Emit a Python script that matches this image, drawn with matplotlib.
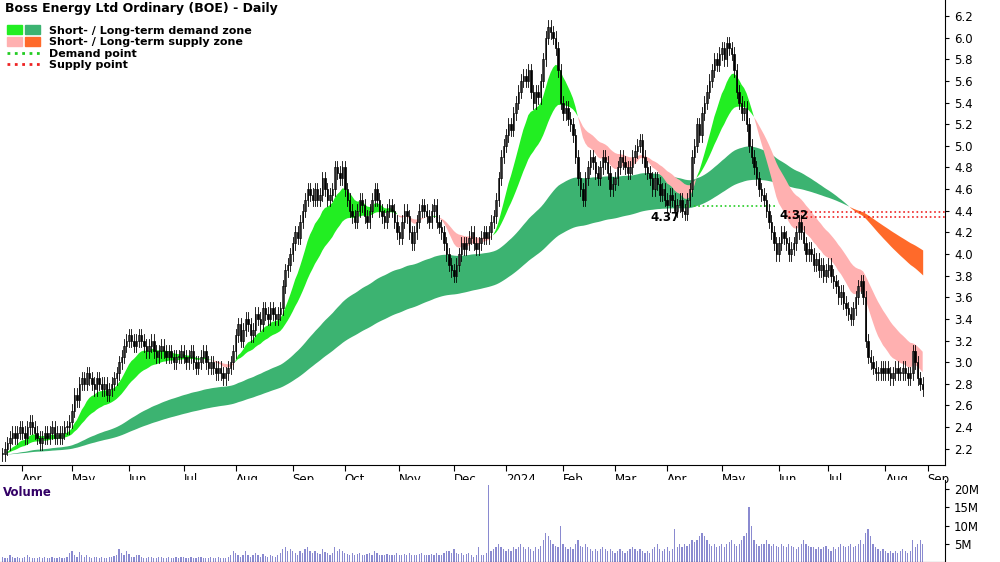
import numpy as np, pandas as pd, matplotlib
matplotlib.use("Agg")
import matplotlib.pyplot as plt
from matplotlib.patches import Patch
from matplotlib.lines import Line2D
import matplotlib.legend_handler as lh

closes = [2.15,2.2,2.25,2.3,2.35,2.3,2.35,2.4,
 2.35,2.3,2.4,2.45,2.4,2.35,2.3,2.25,2.3,2.35,2.3,2.35,2.4,2.3,2.35,2.3,2.35,2.4,2.4,
 2.45,2.55,2.7,2.65,2.8,2.85,2.8,2.9,2.85,2.8,2.75,2.85,2.8,2.75,2.8,2.7,2.75,2.8,2.85,2.9,3.0,3.05,
 3.15,3.2,3.25,3.2,3.15,3.2,3.25,3.2,3.15,3.1,3.15,3.2,3.1,3.05,3.1,3.15,3.1,3.05,3.1,3.05,3.0,3.05,
 3.05,3.1,3.05,3.0,3.05,3.1,3.0,2.95,3.0,3.05,3.1,3.0,2.95,3.0,2.95,2.9,2.95,2.9,2.85,2.9,2.95,
 3.0,3.1,3.25,3.35,3.2,3.3,3.4,3.35,3.25,3.3,3.45,3.4,3.35,3.5,3.45,3.4,3.5,3.45,3.4,3.45,3.5,3.7,3.85,
 3.9,4.0,4.1,4.2,4.15,4.3,4.4,4.5,4.6,4.55,4.5,4.6,4.5,4.55,4.7,4.6,4.5,4.55,4.6,4.8,4.75,
 4.7,4.8,4.6,4.5,4.4,4.35,4.3,4.4,4.5,4.45,4.35,4.3,4.4,4.5,4.6,4.5,4.4,4.35,4.3,4.4,4.45,4.4,
 4.3,4.2,4.15,4.3,4.4,4.35,4.2,4.1,4.2,4.3,4.4,4.45,4.4,4.35,4.3,4.4,4.45,4.3,4.25,4.2,4.1,4.0,
 3.9,3.85,3.8,3.9,4.0,4.1,4.05,4.1,4.15,4.2,4.1,4.05,4.1,4.15,4.2,4.15,4.2,4.3,4.35,
 4.5,4.7,4.9,5.0,5.1,5.2,5.15,5.3,5.4,5.5,5.6,5.65,5.6,5.7,5.5,5.4,5.5,5.45,5.6,5.8,6.0,6.1,
 6.05,6.0,5.9,5.7,5.4,5.3,5.35,5.25,5.2,5.1,4.9,4.7,4.6,4.5,4.7,4.8,4.9,4.85,4.75,4.7,4.8,
 4.9,4.85,4.75,4.6,4.65,4.7,4.8,4.9,4.85,4.8,4.75,4.8,4.9,4.95,5.0,5.05,4.9,4.8,4.75,4.7,
 4.6,4.7,4.65,4.55,4.6,4.5,4.45,4.55,4.5,4.4,4.45,4.5,4.4,4.37,4.5,4.6,4.9,5.0,5.2,5.1,5.3,5.4,
 5.5,5.6,5.7,5.8,5.75,5.85,5.9,5.8,5.95,5.9,5.85,5.7,5.5,5.4,5.3,5.35,5.2,5.0,4.9,4.8,4.7,4.6,4.55,
 4.5,4.4,4.3,4.2,4.1,4.0,4.1,4.2,4.15,4.1,4.0,4.05,4.1,4.2,4.3,4.2,4.1,4.0,4.05,4.0,
 3.9,3.95,3.85,3.9,3.8,3.85,3.9,3.8,3.75,3.7,3.6,3.65,3.55,3.5,3.45,3.4,3.5,3.6,3.7,3.75,3.6,3.2,3.05,
 3.0,2.95,2.9,2.9,2.95,2.9,2.95,2.9,2.85,2.9,2.95,2.9,2.9,2.95,2.9,2.85,2.9,3.1,3.0,2.85,2.8,2.75]
volumes_m = [1.5,1.2,1,2,1.3,1,1.5,1.2,
 1,1.3,2,1.5,1,1.2,1.1,1.4,1,1.3,1.2,1,1.5,1.1,1,1.3,1.2,1,1.4,
 2.5,3,2,1.5,2.8,2,1.5,1.8,1.3,1.2,1.5,1.4,1.1,1.3,1.2,1,1.5,1.3,1.6,2,3.5,2.5,
 2,3,2.2,1.5,1.4,1.8,2,1.3,1.2,1.1,1.5,1.4,1.2,1,1.3,1.5,1.2,1.1,1.4,1.2,1,1.3,
 1.2,1.5,1.3,1,1.2,1.4,1.1,1,1.3,1.5,1.2,1,1.1,1.3,1.2,1,1.4,1.1,1.2,1,1.5,
 2,3,2.5,2,1.5,2,3,1.8,1.5,2,2.5,1.8,1.5,2.2,1.7,1.5,2,1.6,1.4,1.8,2.5,3.5,4,
 3,3.5,3,2.5,2,3,2.5,3.5,4,3,2.5,3,2.5,2.2,3.5,2.8,2.4,2,2.5,4,3,
 3.5,3,2.5,2.2,2,2.5,2,2.3,2.5,2,1.8,2.2,2.5,2,3,2.5,2,1.8,2,2.2,2,1.8,
 2,2.5,2,1.8,2.2,2,2.5,2,1.8,2,2.2,2.5,2,1.8,2,2.2,2,2.5,2,1.8,2.5,3,
 3,2.5,3.5,2.5,2.2,2.5,2,2.2,2.5,2,1.5,2,4,2,1.8,2.5,21,3,3.5,
 4,5,4,3.5,3,3.5,3,4,3.5,4,5,4,3.5,4,3.5,3,4,3.5,4.5,6,8,7,
 6,5,4.5,4,10,5,4,3.5,4,3.5,5,6,4.5,4,5,4,3.5,3,3.5,3,3.5,
 4,3.5,3,3.5,3,2.5,3,3.5,3,2.5,3,3.5,4,3.5,3,3.5,3,2.5,3,2.5,
 3.5,4,5,3.5,3,3.5,4,3,3.5,9,4,5,4,5,4.5,5,6,5.5,6,7,8,7,
 6,5,4.5,5,4,4.5,5,4,5,5.5,6,5,4.5,5,6,7,8,15,10,6,5,4.5,5,
 5,6,5,4.5,5,4.5,4,5,4.5,4,5,4.5,4,3.5,4,5,6,5,4.5,4,
 4,3.5,4,3.5,4,4.5,3.5,3,4,3.5,4,5,4.5,4,4.5,5,4,4.5,5,6,5,8,9,
 7,5,4,3.5,3,3.5,3,2.5,3,2.5,3,2.5,3,3.5,3,2.5,3,6,4,5,6,5]
month_labels = ["Apr","May","Jun","Jul","Aug","Sep","Oct","Nov","Dec","2024","Feb","Mar","Apr","May","Jun","Jul","Aug","Sep"]
demand_point = 4.37
supply_point = 4.32

n = len(closes)
dates = pd.bdate_range("2023-03-22", periods=n)
c = pd.Series(closes)
opens = np.r_[closes[0], closes[:-1]]
x = np.arange(n)

def ema(s, span): return s.ewm(span=span, adjust=False).mean().values
sf, ss = ema(c, 13), ema(c, 30)
lf, ls = ema(c, 100), ema(c, 175)

fig = plt.figure(figsize=(10, 5.62), dpi=100)
ax = fig.add_axes([0.0, 0.173, 0.945, 0.827])
av = fig.add_axes([0.0, 0.0, 0.945, 0.146], sharex=ax)

ax.fill_between(x, lf, ls, where=lf >= ls, color="#3cb371", interpolate=True, lw=0)
ax.fill_between(x, lf, ls, where=lf < ls, color="#ff6a2a", interpolate=True, lw=0)
ax.fill_between(x, sf, ss, where=sf >= ss, color="#22ee22", interpolate=True, lw=0)
ax.fill_between(x, sf, ss, where=sf < ss, color="#ffb0b0", interpolate=True, lw=0)

i_dp = 275
ax.plot([i_dp, 312], [demand_point + 0.07] * 2, ls=":", color="#22cc22", lw=1.2)
ax.text(i_dp - 2, demand_point + 0.03, f"{demand_point:.2f}", ha="right", va="top", fontsize=8.5, fontweight="bold")
i_sp = 315
for dy in (0.0, 0.05):
    ax.plot([i_sp, n + 8], [supply_point + 0.02 + dy] * 2, ls=":", color="#ee2222", lw=1.2)
ax.text(i_sp + 10, supply_point + 0.1, f"{supply_point:.2f}", ha="right", va="top", fontsize=8.5, fontweight="bold")

wick = 0.06
for i in range(n):
    o, cl = opens[i], closes[i]
    lo, hi = min(o, cl) - wick, max(o, cl) + wick
    ax.plot([i, i], [lo, hi], color="black", lw=0.6)
    up = cl >= o
    ax.bar(i, max(abs(cl - o), 0.01), bottom=min(o, cl), width=0.6,
           color="white" if up else "black", edgecolor="black", lw=0.5)

av.bar(x, volumes_m, width=0.5, color="#8a8ad0")

ax.set_xlim(-1, n + 8)
ax.set_ylim(2.052, 6.348)
av.set_ylim(0, 22.5)
yt = np.round(np.arange(2.2, 6.21, 0.2), 1)
ax.yaxis.tick_right(); ax.set_yticks(yt); ax.set_yticklabels([f"{v:.1f}" for v in yt])
av.yaxis.tick_right(); av.set_yticks([5, 10, 15, 20]); av.set_yticklabels(["5M", "10M", "15M", "20M"])
for a in (ax, av):
    a.tick_params(axis="y", labelsize=8.5, length=3, direction="out")
    for s in ("top", "left"): a.spines[s].set_visible(False)

mstarts = [i for i in range(1, n) if dates[i].month != dates[i - 1].month]
mstarts.append(n + 1)
ax.set_xticks(mstarts)
ax.set_xticklabels(month_labels[:len(mstarts)], ha="left", fontsize=8.5)
ax.tick_params(axis="x", length=4, pad=2)
plt.setp(av.get_xticklabels(), visible=False)
av.tick_params(axis="x", length=0)

ax.text(0.005, 0.995, "Boss Energy Ltd Ordinary (BOE) - Daily", transform=ax.transAxes, va="top", fontsize=9, fontweight="bold")
av.text(0.003, 0.93, "Volume", transform=av.transAxes, va="top", fontsize=8.5, fontweight="bold", color="#330066")

handles = [(Patch(color="#22ee22"), Patch(color="#3cb371")), (Patch(color="#ffb0b0"), Patch(color="#ff6a2a")),
           Line2D([], [], ls=":", color="#22cc22", lw=2), Line2D([], [], ls=":", color="#ee2222", lw=2)]
leg = ax.legend(handles, ["Short- / Long-term demand zone", "Short- / Long-term supply zone", "Demand point", "Supply point"],
          handler_map={tuple: lh.HandlerTuple(ndivide=None, pad=0.3)}, loc="upper left", bbox_to_anchor=(0.0, 0.96),
          frameon=False, fontsize=8, handlelength=3, handleheight=0.9, labelspacing=0.1, borderaxespad=0.2)
for t in leg.get_texts(): t.set_fontweight("bold")
fig.savefig("out.png", dpi=100)
